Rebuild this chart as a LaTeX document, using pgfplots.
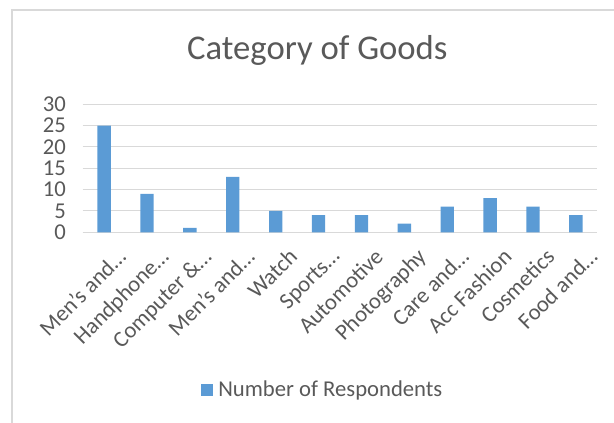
\documentclass[border=0pt]{standalone}
\usepackage{fontspec}
\setmainfont{Carlito}
\usepackage{pgfplots}
\pgfplotsset{compat=1.18}
\definecolor{barblue}{HTML}{5B9BD5}
\definecolor{gridgray}{HTML}{D9D9D9}
\definecolor{txtgray}{HTML}{595959}
\definecolor{framegray}{HTML}{D9D9D9}
\begin{document}
\begin{tikzpicture}
\useasboundingbox (0,0) rectangle (460.5pt,-317.25pt);
\draw[framegray, line width=0.8pt] (9pt,-317.25pt) -- (9pt,-7.5pt) -- (460.5pt,-7.5pt);
\node[txtgray, font=\fontsize{26}{30}\selectfont] at (238pt,-37.5pt) {Category of Goods};
\begin{axis}[
  at={(62pt,-174.2pt)}, anchor=south west,
  scale only axis, width=386pt, height=96pt,
  ymin=0, ymax=30, xmin=-0.5, xmax=11.5,
  ybar, bar width=10pt,
  ytick={0,5,...,30},
  ymajorgrids, grid style={gridgray, line width=0.8pt},
  axis x line*=bottom,
  axis y line*=left,
  y axis line style={draw=none},
  x axis line style={gridgray, line width=0.8pt, -},
  major tick length=0pt,
  xtick=data,
  xticklabels={Men's and…, Handphone…, Computer \&…, Men's and…, Watch, Sports…, Automotive, Photography, Care and…, Acc Fashion, Cosmetics, Food and…},
  x tick label style={rotate=45, anchor=north east, font=\fontsize{17}{20}\selectfont, text=txtgray, inner sep=1pt, xshift=-0.5pt, yshift=-13pt},
  y tick label style={font=\fontsize{17}{20}\selectfont, text=txtgray, xshift=-9pt},
  /pgf/number format/assume math mode=true,
  legend style={at={(0.467,-1.232)}, anchor=center, draw=none, fill=none, font=\fontsize{17}{20}\selectfont, text=txtgray, inner sep=0pt},
  legend image code/.code={\fill[barblue] (0pt,-4.5pt) rectangle (9pt,4.5pt); \path (11pt,0pt);},
]
\addplot[fill=barblue, draw=none] coordinates {(0,25) (1,9) (2,1) (3,13) (4,5) (5,4) (6,4) (7,2) (8,6) (9,8) (10,6) (11,4)};
\addlegendentry{Number of Respondents}
\end{axis}
\end{tikzpicture}
\end{document}
